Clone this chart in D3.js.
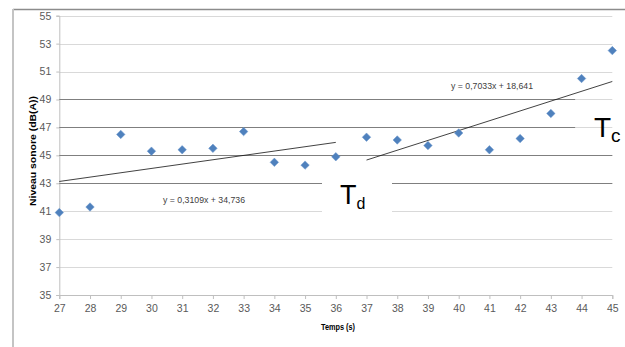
<!DOCTYPE html>
<html>
<head>
<meta charset="utf-8">
<script src="https://cdn.jsdelivr.net/npm/d3@7"></script>
<style>
  html, body { margin: 0; padding: 0; background: #fff; }
  svg { display: block; }
</style>
</head>
<body>
<svg id="chart" width="625" height="347"></svg>
<script>
// ---- data ----
const times = [27, 28, 29, 30, 31, 32, 33, 34, 35, 36, 37, 38, 39, 40, 41, 42, 43, 44, 45];
const levels = [40.9, 41.3, 46.5, 45.3, 45.4, 45.5, 46.7, 44.5, 44.3, 44.9, 46.3, 46.1, 45.7, 46.6, 45.4, 46.2, 48.0, 50.5, 52.5];
const xTicks = [27, 28, 29, 30, 31, 32, 33, 34, 35, 36, 37, 38, 39, 40, 41, 42, 43, 44, 45];
const yTicks = [35, 37, 39, 41, 43, 45, 47, 49, 51, 53, 55];
const trendSlopes = [0.3109, 0.7033];
const trendIntercepts = [34.736, 18.641];
const trendFrom = [27, 37];
const trendTo = [36, 45];
const trendLabels = ["y = 0,3109x + 34,736", "y = 0,7033x + 18,641"];
const thresholdLevels = [43, 45, 47, 49];
const thresholdEnds = [45, 45, 43.79, 43.79];

// ---- layout ----
const svg = d3.select("#chart");
const x = d3.scaleLinear().domain([27, 45]).range([59.3, 612.3]);
const y = d3.scaleLinear().domain([35, 55]).range([295, 15.7]);
const tickFont = "'Liberation Sans Narrow', 'Arial Narrow', 'Liberation Sans', sans-serif";

// outer frame
svg.append("line").attr("x1", 13).attr("x2", 625).attr("y1", 9.5).attr("y2", 9.5)
  .attr("stroke", "#8c8c8c").attr("stroke-width", 1.3);
svg.append("line").attr("x1", 13).attr("x2", 13).attr("y1", 9).attr("y2", 347)
  .attr("stroke", "#c4c4c4").attr("stroke-width", 2);

// light gridlines
svg.append("g").selectAll("line").data(yTicks.filter(v => v !== 35)).join("line")
  .attr("x1", x(27)).attr("x2", x(45))
  .attr("y1", d => Math.round(y(d)) + 0.5).attr("y2", d => Math.round(y(d)) + 0.5)
  .attr("stroke", "#d9d9d9").attr("stroke-width", 1);

// y axis
const yAxis = svg.append("g").attr("transform", `translate(${x(27)},0)`)
  .call(d3.axisLeft(y).tickValues(yTicks).tickSize(3).tickPadding(5).tickFormat(d3.format("d")));
yAxis.select(".domain").attr("stroke", "#bfbfbf");
yAxis.selectAll(".tick line").attr("stroke", "#bfbfbf");
yAxis.selectAll("text").attr("fill", "#595959").style("font-family", tickFont).style("font-size", "10.5px");

// x axis
const xAxis = svg.append("g").attr("transform", `translate(0,${y(35)})`)
  .call(d3.axisBottom(x).tickValues(xTicks).tickSize(4).tickPadding(6).tickFormat(d3.format("d")));
xAxis.select(".domain").attr("stroke", "#bfbfbf");
xAxis.selectAll(".tick line").attr("stroke", "#bfbfbf");
xAxis.selectAll("text").attr("fill", "#595959").style("font-family", tickFont).style("font-size", "10.5px");

// threshold lines
svg.append("g").selectAll("line").data(thresholdLevels).join("line")
  .attr("x1", x(27)).attr("x2", (d, i) => x(thresholdEnds[i]))
  .attr("y1", d => Math.round(y(d)) + 0.5).attr("y2", d => Math.round(y(d)) + 0.5)
  .attr("stroke", "#7f7f7f").attr("stroke-width", 1);

// Td label box
svg.append("rect").attr("x", 322).attr("y", 178).attr("width", 70).attr("height", 38).attr("fill", "#fff");
const td = svg.append("text").attr("x", 340).attr("y", 203.5)
  .style("font-family", "'Liberation Sans', Arial, sans-serif").style("font-size", "27px").attr("fill", "#000");
td.append("tspan").text("T");
td.append("tspan").attr("dy", 5.5).style("font-size", "16px").text("d");

const tc = svg.append("text").attr("x", 594).attr("y", 137)
  .style("font-family", "'Liberation Sans', Arial, sans-serif").style("font-size", "28px").attr("fill", "#000");
tc.append("tspan").text("T");
tc.append("tspan").attr("dy", 5).style("font-size", "19px").text("c");

// trendlines
trendSlopes.forEach((m, i) => {
  const x0 = trendFrom[i], x1 = trendTo[i];
  svg.append("line")
    .attr("x1", x(x0)).attr("y1", y(m * x0 + trendIntercepts[i]))
    .attr("x2", x(x1)).attr("y2", y(m * x1 + trendIntercepts[i]))
    .attr("stroke", "#111").attr("stroke-width", 0.8);
});

// equation labels
const eqPos = [[163, 203], [451, 89]];
trendLabels.forEach((t, i) => {
  svg.append("text").attr("x", eqPos[i][0]).attr("y", eqPos[i][1])
    .attr("textLength", 82).attr("lengthAdjust", "spacingAndGlyphs")
    .style("font-family", tickFont).style("font-size", "9.5px").attr("fill", "#404040").text(t);
});

// points
const diamond = d3.symbol().type(d3.symbolDiamond2).size(46);
svg.append("g").selectAll("path").data(times).join("path")
  .attr("transform", (d, i) => `translate(${x(d)},${y(levels[i])})`)
  .attr("d", diamond)
  .attr("fill", "#4f81bd").attr("stroke", "#6b96cc").attr("stroke-width", 0.5);

// axis titles
svg.append("text").attr("transform", `translate(36,151) rotate(-90)`).attr("text-anchor", "middle")
  .attr("textLength", 110).attr("lengthAdjust", "spacingAndGlyphs")
  .style("font-family", tickFont).style("font-size", "9.5px").style("font-weight", "bold").attr("fill", "#000")
  .text("Niveau sonore (dB(A))");
svg.append("text").attr("x", 338).attr("y", 330).attr("text-anchor", "middle")
  .attr("textLength", 34).attr("lengthAdjust", "spacingAndGlyphs")
  .style("font-family", tickFont).style("font-size", "9.5px").style("font-weight", "bold").attr("fill", "#000")
  .text("Temps (s)");
</script>
</body>
</html>
